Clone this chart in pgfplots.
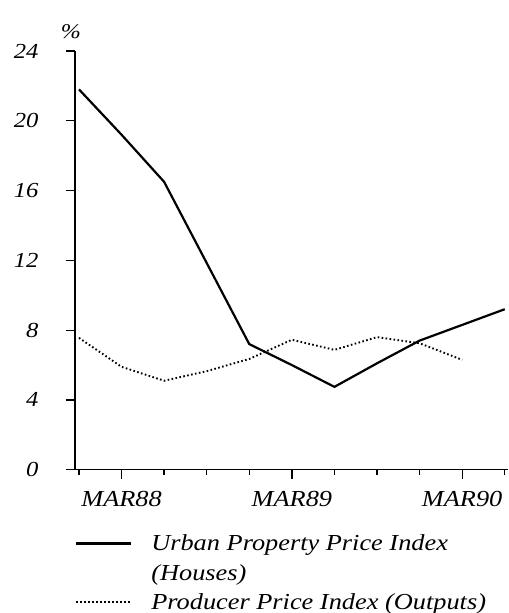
\documentclass[border=0pt]{standalone}
\usepackage{fontspec}
\setmainfont{Liberation Serif}[FakeStretch=1.15]
\usepackage{pgfplots}
\pgfplotsset{compat=1.18}
\begin{document}
\begin{tikzpicture}
\begin{axis}[
  name=ax,
  scale only axis,
  width=433bp, height=419bp,
  xmin=-0.094, xmax=10.07,
  ymin=0, ymax=24,
  axis x line=bottom, axis y line=left,
  axis line style={-, line width=1.3bp},
  every tick/.style={line width=1.3bp, black},
  xtick align=outside,
  ytick align=outside,
  major tick length=9bp,
  minor tick length=5bp,
  xtick={1,5,9},
  xticklabels={MAR88,MAR89,MAR90},
  minor xtick={0,2,3,4,6,7,8,10},
  ytick={0,4,8,12,16,20,24},
  /pgf/number format/assume math mode=true,
  ticklabel style={font=\fontsize{23}{27}\selectfont\itshape},
  xticklabel shift=9bp,
  yticklabel shift=24bp,
  yticklabel style={font=\fontsize{21.5}{25}\selectfont\itshape},
  legend style={at={(0,0)}, anchor=north west, yshift=-63bp, draw=none, fill=none, inner sep=0pt,
    font=\fontsize{23}{27}\selectfont\itshape, row sep=8bp},
  legend cell align=left,
  legend image code/.code={\draw[#1] (0bp,0bp) -- (55bp,0bp); \path (72bp,0bp);},
]
\addplot[black, line width=2.2bp] coordinates {
(0,21.8) (1,19.2) (2,16.5) (3,11.85) (4,7.2) (5,6.0) (6,4.75) (7,6.1) (8,7.4) (9,8.3) (10,9.2)};
\addlegendentry{Urban Property Price Index}
\addlegendimage{empty legend}
\addlegendentry{(Houses)}
\addplot[black, line width=1.9bp, dash pattern=on 1.6bp off 2.4bp] coordinates {
(0,7.56) (1,5.9) (2,5.1) (3,5.65) (4,6.35) (5,7.45) (6,6.87) (7,7.6) (8,7.25) (9,6.3)};
\addlegendentry{Producer Price Index (Outputs)}
\end{axis}
\foreach \i in {0,...,6} {
  \draw[line width=1.3bp, black] ([yshift=\i*69.8333bp]ax.south west) -- ++(-9bp,0bp);
}
\node[font=\fontsize{21}{25}\selectfont\itshape] at ([xshift=-4bp,yshift=19bp]ax.north west) {\%};
\path ([xshift=-75bp,yshift=-143bp]ax.south west) rectangle ++(508bp,613bp);
\end{tikzpicture}
\end{document}
